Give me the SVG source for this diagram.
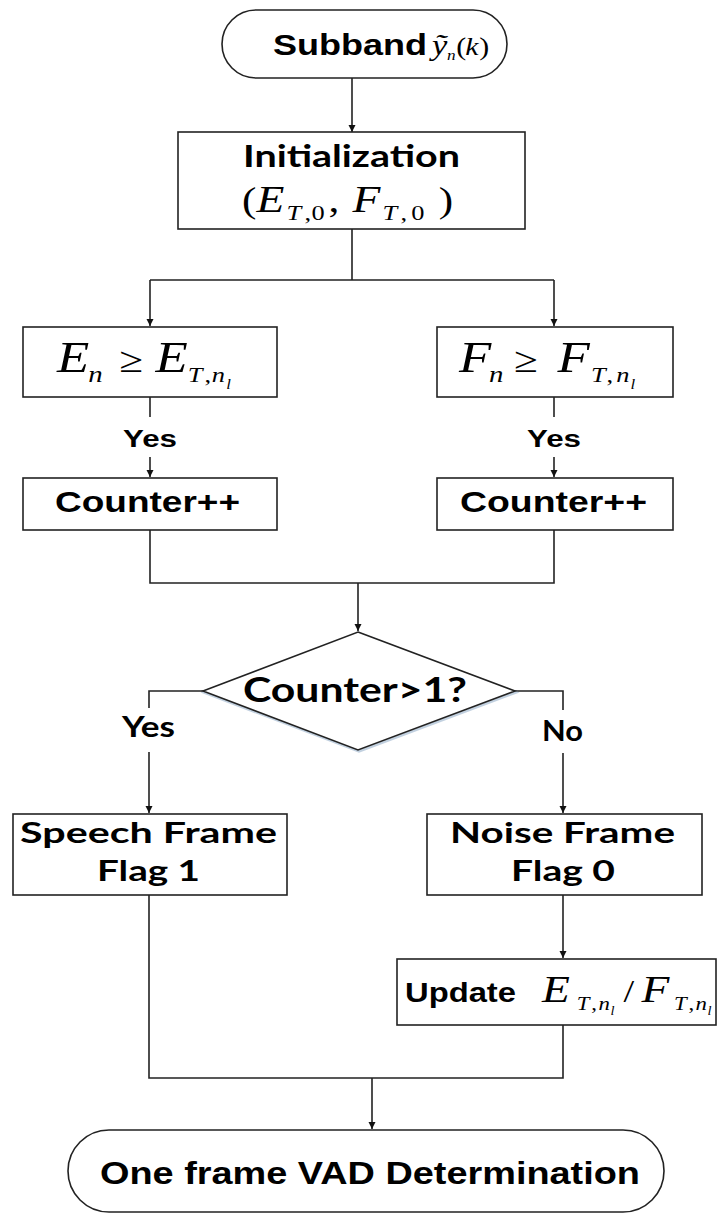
<svg xmlns="http://www.w3.org/2000/svg" width="718" height="1216" viewBox="0 0 718 1216">
<defs>
<marker id="ah" markerWidth="8" markerHeight="8" refX="7" refY="3.5" orient="auto" markerUnits="userSpaceOnUse">
<path d="M0,0 L7,3.5 L0,7 z" fill="#111"/>
</marker>
<style>
.box{fill:#fff;stroke:#222;stroke-width:1.6}
.ln{fill:none;stroke:#222;stroke-width:1.6}
.ar{fill:none;stroke:#222;stroke-width:1.6;marker-end:url(#ah)}
.a{font-family:"Liberation Sans",Arial,sans-serif;font-weight:bold;fill:#000}
.c{font-family:Lato,"Open Sans",sans-serif;font-weight:bold;fill:#000}
.m{font-family:"Liberation Serif","Times New Roman",serif;font-style:italic;fill:#000}
.r{font-family:"Liberation Serif","Times New Roman",serif;fill:#000}
</style>
</defs>
<g id="connectors">
<path class="ar" d="M352,78 V132"/>
<path class="ln" d="M352,229 V280 M150,280 H554"/>
<path class="ar" d="M150,280 V326"/>
<path class="ar" d="M554,280 V326"/>
<path class="ln" d="M150,397 V417"/>
<path class="ar" d="M150,457 V477"/>
<path class="ln" d="M554,397 V417"/>
<path class="ar" d="M554,457 V477"/>
<path class="ln" d="M150,530 V583 H554 V530"/>
<path class="ar" d="M358,583 V631"/>
<path class="ln" d="M203,691 H149 V708"/>
<path class="ar" d="M149,752 V813"/>
<path class="ln" d="M515,691 H563 V710"/>
<path class="ar" d="M563,753 V813"/>
<path class="ar" d="M563,895 V958"/>
<path class="ln" d="M149,895 V1078 H563 V1025"/>
<path class="ar" d="M372,1078 V1129"/>
</g>
<g id="labels">
<text class="a" x="123" y="447" font-size="23" textLength="54" lengthAdjust="spacingAndGlyphs">Yes</text>
<text class="a" x="527" y="447" font-size="23" textLength="54" lengthAdjust="spacingAndGlyphs">Yes</text>
<text class="c" x="122" y="737" font-size="28" textLength="53" lengthAdjust="spacingAndGlyphs">Yes</text>
<text class="c" x="542" y="741" font-size="28" textLength="41" lengthAdjust="spacingAndGlyphs">No</text>
</g>
<g id="start">
<rect class="box" x="222" y="10" width="285" height="68" rx="34" ry="34"/>
<text class="a" x="273" y="55" font-size="30" textLength="154" lengthAdjust="spacingAndGlyphs">Subband</text>
<g transform="translate(432,55) scale(1.15,1)">
<text class="m" x="0" y="0" font-size="30">ỹ</text>
<text class="m" x="13" y="5" font-size="15">n</text>
<text class="r" x="21" y="0" font-size="26">(</text>
<text class="m" x="29" y="0" font-size="26">k</text>
<text class="r" x="41" y="0" font-size="26">)</text>
</g>
</g>
<g id="init">
<rect class="box" x="178" y="132" width="347" height="97"/>
<text class="c" x="243" y="167" font-size="31" textLength="217" lengthAdjust="spacingAndGlyphs">Initialization</text>
<g transform="translate(242,212) scale(1.2,1)">
<text class="r" x="0" y="0" font-size="36">(</text>
<text class="m" x="12" y="0" font-size="38">E</text>
<text class="m" x="37" y="8" font-size="22">T</text>
<text class="r" x="52" y="8" font-size="22">,</text>
<text class="r" x="58" y="8" font-size="22">0</text>
<text class="r" x="72" y="0" font-size="36">,</text>
<text class="m" x="92" y="0" font-size="38">F</text>
<text class="m" x="117" y="8" font-size="22">T</text>
<text class="r" x="132" y="8" font-size="22">,</text>
<text class="r" x="141" y="8" font-size="22">0</text>
<text class="r" x="164" y="0" font-size="36">)</text>
</g>
</g>
<g id="condE">
<rect class="box" x="23" y="327" width="254" height="70"/>
<g transform="translate(57,372) scale(1.2,1)">
<text class="m" x="0" y="0" font-size="44">E</text>
<text class="m" x="26" y="10" font-size="24">n</text>
<text class="r" x="52" y="0" font-size="36">≥</text>
<text class="m" x="82" y="0" font-size="44">E</text>
<text class="m" x="109" y="10" font-size="22">T</text>
<text class="r" x="123" y="10" font-size="22">,</text>
<text class="m" x="129" y="10" font-size="22">n</text>
<text class="m" x="141" y="17" font-size="14">l</text>
</g>
</g>
<g id="condF">
<rect class="box" x="437" y="327" width="236" height="70"/>
<g transform="translate(459,372) scale(1.2,1)">
<text class="m" x="0" y="0" font-size="44">F</text>
<text class="m" x="25" y="10" font-size="24">n</text>
<text class="r" x="46" y="0" font-size="36">≥</text>
<text class="m" x="82" y="0" font-size="44">F</text>
<text class="m" x="110" y="10" font-size="22">T</text>
<text class="r" x="123" y="10" font-size="22">,</text>
<text class="m" x="131" y="10" font-size="22">n</text>
<text class="m" x="143" y="17" font-size="14">l</text>
</g>
</g>
<g id="counterE">
<rect class="box" x="23" y="478" width="254" height="52"/>
<text class="a" x="55" y="512" font-size="30" textLength="185" lengthAdjust="spacingAndGlyphs">Counter++</text>
</g>
<g id="counterF">
<rect class="box" x="437" y="478" width="236" height="52"/>
<text class="a" x="460" y="512" font-size="30" textLength="187" lengthAdjust="spacingAndGlyphs">Counter++</text>
</g>
<g id="decision">
<polygon points="358,632 515,691 358,750 203,691" fill="#fff" stroke="#9bb3cc" stroke-width="2.5" transform="translate(1,1.5)" opacity="0.6"/>
<polygon points="358,632 515,691 358,750 203,691" fill="#fff" stroke="#222" stroke-width="1.6"/>
<text class="c" x="243" y="702" font-size="35" textLength="224" lengthAdjust="spacingAndGlyphs">Counter&gt;1?</text>
</g>
<g id="speech">
<rect class="box" x="13" y="814" width="274" height="81"/>
<text class="c" x="20" y="843" font-size="28" textLength="257" lengthAdjust="spacingAndGlyphs">Speech Frame</text>
<text class="c" x="97" y="881" font-size="28" textLength="103" lengthAdjust="spacingAndGlyphs">Flag 1</text>
</g>
<g id="noise">
<rect class="box" x="427" y="814" width="275" height="81"/>
<text class="c" x="450" y="843" font-size="28" textLength="225" lengthAdjust="spacingAndGlyphs">Noise Frame</text>
<text class="c" x="511" y="881" font-size="28" textLength="104" lengthAdjust="spacingAndGlyphs">Flag 0</text>
</g>
<g id="update">
<rect class="box" x="397" y="959" width="319" height="66"/>
<text class="a" x="405" y="1002" font-size="28" textLength="111" lengthAdjust="spacingAndGlyphs">Update</text>
<g transform="translate(542,1002) scale(1.2,1)">
<text class="m" x="0" y="0" font-size="38">E</text>
<text class="m" x="29" y="8" font-size="19">T</text>
<text class="r" x="41" y="8" font-size="19">,</text>
<text class="m" x="47" y="8" font-size="19">n</text>
<text class="m" x="57" y="13" font-size="12">l</text>
<text class="r" x="68" y="0" font-size="32">/</text>
<text class="m" x="83" y="0" font-size="38">F</text>
<text class="m" x="110" y="8" font-size="19">T</text>
<text class="r" x="122" y="8" font-size="19">,</text>
<text class="m" x="128" y="8" font-size="19">n</text>
<text class="m" x="138" y="13" font-size="12">l</text>
</g>
</g>
<g id="end">
<rect class="box" x="68" y="1130" width="596" height="82" rx="41" ry="41"/>
<text class="a" x="100" y="1184" font-size="31" textLength="540" lengthAdjust="spacingAndGlyphs">One frame VAD Determination</text>
</g>
</svg>
